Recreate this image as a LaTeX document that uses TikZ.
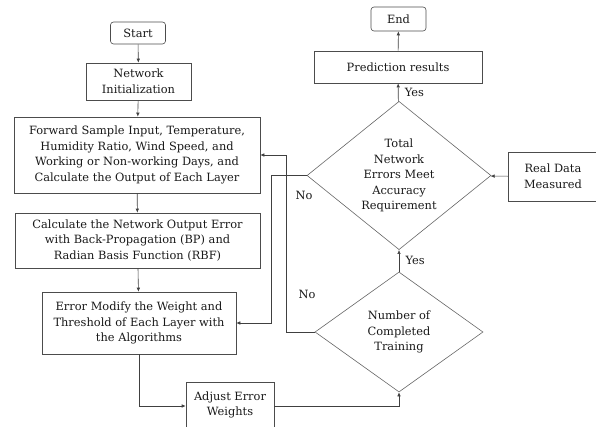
\documentclass[tikz,border=0pt]{standalone}
\usepackage{fontspec}
\setmainfont{DejaVu Serif}
\usetikzlibrary{shapes.geometric,arrows.meta}
\begin{document}
\begin{tikzpicture}[x=1pt, y=-1pt,
  every node/.style={align=center, font=\fontsize{11.4}{15.5}\selectfont, text=black!90},
  box/.style={draw=black!70, line width=0.6pt, inner sep=0pt},
  term/.style={box, rounded corners=3pt},
  decide/.style={draw=black!60, line width=0.6pt, diamond, inner sep=0pt},
  arr/.style={draw=black!75, line width=0.6pt, -{Latex[length=4pt,width=3.5pt]}}]
  \useasboundingbox (0,0) rectangle (596,427);
  % Left column: training steps
  \node[term, minimum width=55pt, minimum height=22pt] (start) at (138,33) {Start};
  \node[box, minimum width=105pt, minimum height=37pt] (init) at (138.5,81.5) {Network\\Initialization};
  \node[box, minimum width=246pt, minimum height=76pt] (fwd) at (137,155) {Forward Sample Input, Temperature,\\Humidity Ratio, Wind Speed, and\\Working or Non-working Days, and\\Calculate the Output of Each Layer};
  \node[box, minimum width=245pt, minimum height=55pt] (calc) at (137.5,240.5) {Calculate the Network Output Error\\with Back-Propagation (BP) and\\Radian Basis Function (RBF)};
  \node[box, minimum width=194pt, minimum height=62pt] (modify) at (139,323) {Error Modify the Weight and\\Threshold of Each Layer with\\the Algorithms};
  \node[box, minimum width=88pt, minimum height=46pt] (adjust) at (230,405) {Adjust Error\\Weights};

  % Right column: checks and results
  \node[term, minimum width=55pt, minimum height=24pt] (finish) at (398.5,19) {End};
  \node[box, minimum width=168pt, minimum height=32pt] (pred) at (398,67) {Prediction results};
  \node[decide, minimum width=184pt, minimum height=135pt] (total) at (399,175.5) {Total\\Network\\Errors Meet\\Accuracy\\Requirement};
  \node[decide, minimum width=168pt, minimum height=120pt] (count) at (399,332) {Number of\\Completed\\Training};
  \node[box, minimum width=90pt, minimum height=49pt] (real) at (553,176.5) {Real Data\\Measured};

  % Connectors
  \draw[arr] (start) -- (init);
  \draw[arr] (init) -- (fwd);
  \draw[arr] (fwd) -- (calc);
  \draw[arr] (calc) -- (modify);
  \draw[arr] (modify.south) |- (adjust.west |- 0,406);
  \draw[arr] (adjust.east |- 0,406) -| (count.south);
  \draw[arr] (count) -- node[right, xshift=3pt] {Yes} (total);
  \draw[arr] (total) -- node[right, xshift=3pt] {Yes} (pred);
  \draw[arr] (pred) -- (finish);
  \draw[arr] (real) -- (total);
  \draw[arr] (total.west) -- ++(-35,0) coordinate (t1) |- (modify.east);
  \draw[arr] (count.west) -- ++(-28,0) coordinate (c1) |- (fwd.east);
  \node at (304,195) {No};
  \node at (307,294) {No};
\end{tikzpicture}
\end{document}
